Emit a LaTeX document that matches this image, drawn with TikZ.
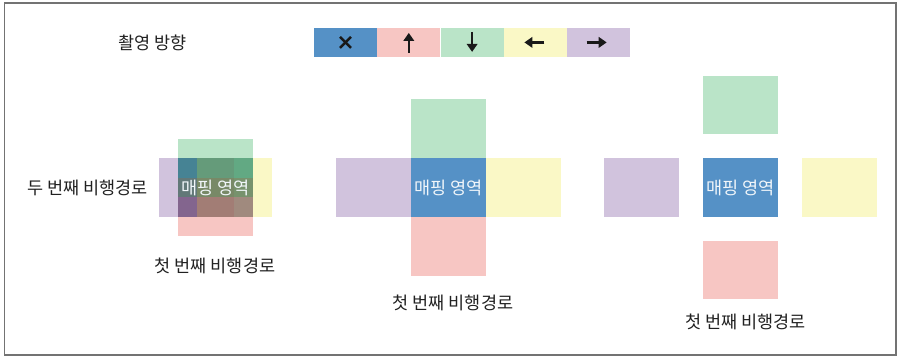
\documentclass[tikz,border=0pt]{standalone}
\usepackage{fontspec}
\usepackage{tikz}
\usetikzlibrary{arrows.meta,positioning}
\newfontfamily\krfont{Noto Sans CJK KR}
\definecolor{mapblue}{RGB}{85,145,198}
\definecolor{upred}{RGB}{228,65,55}
\definecolor{downgreen}{RGB}{25,165,72}
\definecolor{leftyellow}{RGB}{238,232,65}
\definecolor{rightpurple}{RGB}{102,55,142}
\tikzset{
  tile/.style    = {rectangle,inner sep=0pt,minimum width=75pt,minimum height=58.7pt,draw=none},
  maptile/.style = {tile,fill=mapblue},
  shot/.style    = {tile,fill opacity=0.3},
  keytile/.style = {rectangle,inner sep=0pt,minimum width=62.9pt,minimum height=28.7pt,draw=none},
  pale/.style    = {fill opacity=0.3},
  dirarr/.style  = {-{Triangle[length=8pt,width=10.5pt]},line width=2.2pt,black!90},
  krlabel/.style = {font=\krfont\fontsize{17.5}{21}\selectfont,text=black!87,inner sep=0pt}
}
% #1 name, #2 #3 centre, #4 side gap, #5 top/bottom gap
\newcommand{\flightcross}[5]{%
  \node[maptile] (#1) at (#2,#3) {};
  \node[shot,fill=rightpurple,left=#4 of #1]  (#1W) {};
  \node[shot,fill=leftyellow,right=#4 of #1]  (#1E) {};
  \node[shot,fill=upred,below=#5 of #1]       (#1S) {};
  \node[shot,fill=downgreen,above=#5 of #1]   (#1N) {};
  \node[krlabel,text=white!92!mapblue] (#1txt) at (#1) {매핑 영역};
}

\begin{document}
\begin{tikzpicture}[x=1pt,y=-1pt]
  \useasboundingbox (0,0) rectangle (900,357);
  \draw[line width=1.6pt,black!55] (4.3,3) rectangle (896,355.2);

  % legend
  \node[krlabel] (keytitle) at (152.5,42.4) {촬영 방향};
  \node[keytile,fill=mapblue] (keyX) at (345.5,42.4) {};
  \node[keytile,pale,fill=upred,right=0pt of keyX]       (keyN) {};
  \node[keytile,pale,fill=downgreen,right=0pt of keyN]   (keyS) {};
  \node[keytile,pale,fill=leftyellow,right=0pt of keyS]  (keyW) {};
  \node[keytile,pale,fill=rightpurple,right=0pt of keyW] (keyE) {};
  \draw[line width=2.4pt,black!90] ([shift={(-5.5,-5.5)}]keyX.center) -- ([shift={(5.5,5.5)}]keyX.center);
  \draw[line width=2.4pt,black!90] ([shift={(-5.5,5.5)}]keyX.center) -- ([shift={(5.5,-5.5)}]keyX.center);
  \draw[dirarr] ([yshift=-10.5pt]keyN.center) -- ([yshift=9.5pt]keyN.center);
  \draw[dirarr] ([yshift=10.5pt]keyS.center) -- ([yshift=-9.5pt]keyS.center);
  \draw[dirarr] ([xshift=9pt]keyW.center) -- ([xshift=-11pt]keyW.center);
  \draw[dirarr] ([xshift=-12pt]keyE.center) -- ([xshift=8pt]keyE.center);

  % overlapping paths, touching, apart
  \flightcross{mapL}{215.5}{187.5}{-56pt}{-39.7pt}
  \flightcross{mapM}{448.5}{187.5}{0pt}{0pt}
  \flightcross{mapR}{740.5}{187.5}{23.5pt}{23.5pt}

  \node[krlabel] (pathB)  at (87.5,188)    {두 번째 비행경로};
  \node[krlabel] (pathAL) at (215,266)     {첫 번째 비행경로};
  \node[krlabel] (pathAM) at (453,303)     {첫 번째 비행경로};
  \node[krlabel] (pathAR) at (745.5,321.5) {첫 번째 비행경로};
\end{tikzpicture}
\end{document}
